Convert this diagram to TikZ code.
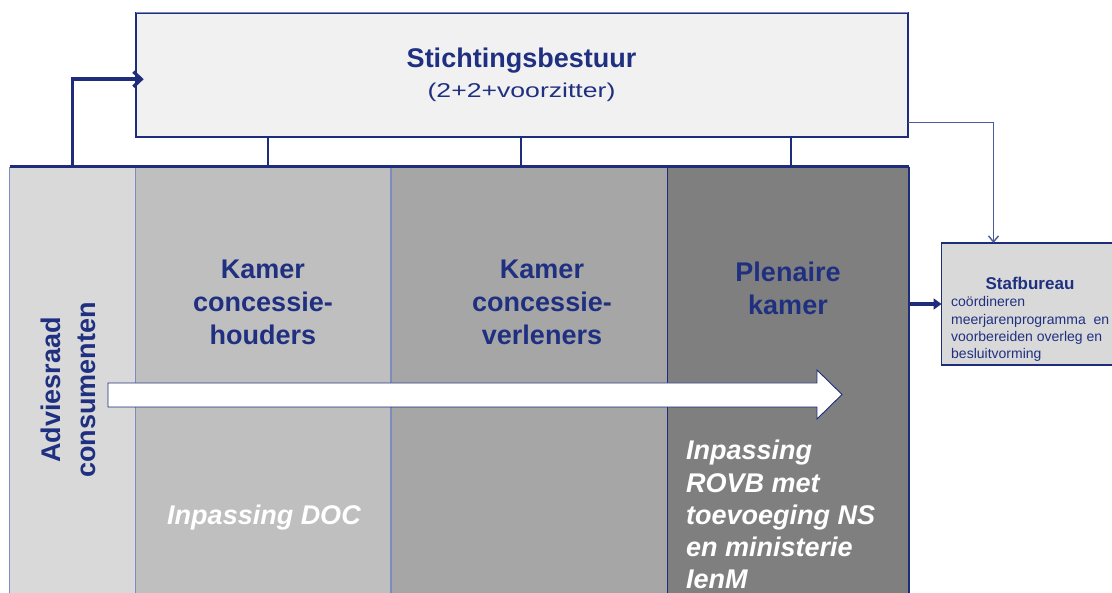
\documentclass[tikz,border=0pt]{standalone}
\usepackage{fontspec}
\setmainfont{Liberation Sans}
\usetikzlibrary{arrows.meta}
\definecolor{navy}{RGB}{30,44,122}
\definecolor{navytxt}{RGB}{32,48,128}
\definecolor{lightedge}{RGB}{125,140,190}
\definecolor{midedge}{RGB}{75,90,155}
\definecolor{cA}{RGB}{217,217,217}
\definecolor{cB}{RGB}{191,191,191}
\definecolor{cC}{RGB}{166,166,166}
\definecolor{cD}{RGB}{127,127,127}
\definecolor{cTop}{RGB}{241,241,241}
\begin{document}
\begin{tikzpicture}[x=1pt,y=-1pt,
  box/.style={draw=none, inner sep=0, outer sep=0, anchor=north west},
  hd/.style={font=\fontsize{27}{33}\selectfont\bfseries, text=navytxt, align=center, inner sep=0},
  wt/.style={font=\fontsize{27}{32.3}\selectfont\bfseries\itshape, text=white, inner sep=0},
  conn/.style={draw=navy, line width=2.6},
  colline/.style={draw=lightedge, line width=1.2}]
\clip (0,0) rectangle (1112,593);
\fill[white] (0,0) rectangle (1112,593);

% columns
\node[box, fill=cA, minimum width=126.2, minimum height=440] (adv) at (9.5,166.7) {};
\node[box, fill=cB, minimum width=255.3, minimum height=440] (kch) at (135.7,166.7) {};
\node[box, fill=cC, minimum width=276, minimum height=440] (kcv) at (391,166.7) {};
\node[box, fill=cD, minimum width=242, minimum height=440] (plen) at (667,166.7) {};
\draw[colline] (adv.north west) -- (adv.south west);
\draw[colline] (adv.north east) -- (adv.south east);
\draw[colline] (kch.north east) -- (kch.south east);
\draw[draw=navy, line width=1] (kcv.north east) -- (kcv.south east);
\draw[draw=navy, line width=2] (plen.north east) -- (plen.south east);
\draw[draw=navy, line width=2.6] (adv.north west) -- (plen.north east);

% top box
\node[box, fill=cTop, minimum width=772.3, minimum height=124, draw=navy, line width=1.8] (top) at (135.7,12.7) {};
\draw[draw=lightedge, line width=1.2] (top.north west) -- (top.north east);

% Stafbureau box
\node[box, fill=cA, minimum width=190, minimum height=122, draw=navy, line width=1.2] (staf) at (941.5,243) {};

% connectors top box -> band
\coordinate (t1) at (268,0);
\coordinate (t2) at (521,0);
\coordinate (t3) at (791,0);
\coordinate (s1) at (993.5,0);
\draw[conn] (top.south -| t1) -- (kch.north -| t1);
\draw[conn] (top.south -| t2) -- (kcv.north -| t2);
\draw[conn] (top.south -| t3) -- (plen.north -| t3);

% Adviesraad -> Stichtingsbestuur
\draw[conn, line width=3.6, -{Straight Barb[length=8,width=15,line width=3.2]}] (adv.north) |- ([shift={(8,4.5)}]top.west);

% Stichtingsbestuur -> Stafbureau
\draw[draw=midedge, line width=1.4, -{Straight Barb[length=6,width=10,line width=1.4]}] ([shift={(0,48)}]top.east) -| (staf.north -| s1);

% Plenaire kamer -> Stafbureau
\draw[draw=navy, line width=4, -{Triangle[length=8,width=11]}] (plen.east |- staf.west) -- (staf.west);

% white block arrow
\draw[draw=navy, fill=white, line width=0.9] (108,383) -- (817,383) -- (817,370) -- (842,394.5) -- (817,419) -- (817,407) -- (108,407) -- cycle;

% texts
\node[hd, anchor=base] (tstich) at (521.5,68) {Stichtingsbestuur};
\node[font=\fontsize{20}{24}\selectfont, text=navytxt, inner sep=0, anchor=base] (tsub) at (521.5,98) {\scalebox{1.33}[1]{(2+2+voorzitter)}};
\node[hd, anchor=north] (tkch) at (263,260) {Kamer\\concessie-\\houders};
\node[hd, anchor=north] (tkcv) at (542,260) {Kamer\\concessie-\\verleners};
\node[hd, anchor=north] (tplen) at (788,262) {Plenaire\\kamer};
\node[hd, rotate=90, align=center, font=\fontsize{27}{35}\selectfont\bfseries] (tadv) at (68.5,390) {Adviesraad\\consumenten};
\node[wt, anchor=base] (tdoc) at (264,525) {Inpassing DOC};
\node[wt, align=left, anchor=north west] (trovb) at (686,440) {Inpassing\\ROVB met\\toevoeging NS\\en ministerie\\IenM};
\node[font=\fontsize{17}{20}\selectfont\bfseries, text=navytxt, inner sep=0, anchor=base] (tstaf) at (1030,290) {Stafbureau};
\node[font=\fontsize{14}{17.3}\selectfont, text=navytxt, inner sep=0, align=left, anchor=north west] (tstaf2) at (951,296.5) {coördineren\\meerjarenprogramma\ \ en\\voorbereiden overleg en\\besluitvorming};
\end{tikzpicture}
\end{document}
